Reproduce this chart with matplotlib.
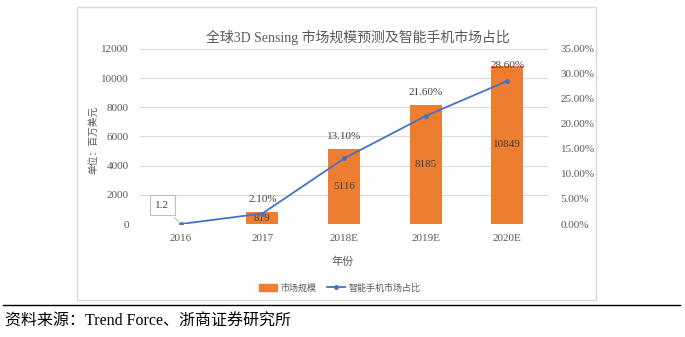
import matplotlib.pyplot as plt
from matplotlib.patches import Rectangle
from matplotlib.lines import Line2D

plt.rcParams['font.family'] = ['Liberation Serif', 'Noto Sans CJK SC', 'DejaVu Sans']

years = ["2016", "2017", "2018E", "2019E", "2020E"]
market = [1.2, 819, 5116, 8185, 10849]
share = [0.0, 2.1, 13.1, 21.6, 28.6]
share_labels = ["", "2.10%", "13.10%", "21.60%", "28.60%"]
left_ticks = [0, 2000, 4000, 6000, 8000, 10000, 12000]
right_ticks = [0, 5, 10, 15, 20, 25, 30, 35]

orange = "#ED7D31"
blue = "#4472C4"
grey = "#595959"

fig = plt.figure(figsize=(6.85, 3.37), dpi=100)
W, H = 685, 337

# chart frame
fig.patches.append(Rectangle((77 / W, 1 - 300 / H), (596 - 77) / W, (300 - 7) / H,
                             transform=fig.transFigure, fill=False, ec="#d9d9d9", lw=1))

ax = fig.add_axes([140 / W, 1 - 224 / H, (548 - 140) / W, (224 - 49) / H])
ax2 = ax.twinx()
x = list(range(len(years)))

ax.bar(x, market, width=0.39, color=orange, zorder=2)
ax.set_ylim(0, 12000)
ax.set_xlim(-0.5, len(years) - 0.5)
ax.set_yticks(left_ticks)
ax.grid(axis="y", color="#d9d9d9", lw=0.8, zorder=0)
ax.set_axisbelow(True)
ax.set_xticks(x)
ax.set_xticklabels(years)
for s in ax.spines.values():
  s.set_visible(False)
for s in ax2.spines.values():
  s.set_visible(False)
ax.tick_params(length=0, labelsize=8, labelcolor=grey, pad=8)
ax.tick_params(axis="x", pad=7)

ax2.plot(x, share, color=blue, lw=1.3, marker="o", ms=2.5, zorder=3)
ax2.set_ylim(0, 35)
ax2.set_yticks(right_ticks)
ax2.set_yticklabels([f"{t:.2f}%" for t in right_ticks])
ax2.tick_params(length=0, labelsize=8, labelcolor=grey, pad=9)

# bar value labels
for i, v in enumerate(market):
  if i == 0:
    continue
  ax.text(i, v / 2, f"{v}", ha="center", va="center", fontsize=8, color="#404040", zorder=4)

# share labels above bars
for i, lab in enumerate(share_labels):
  if not lab:
    continue
  off = 0 if i == 4 else 550
  ax.text(i, market[i] + off, lab, ha="center", va="bottom" if i < 4 else "center",
          fontsize=8, color="#404040", zorder=4)

# callout for 2016
ax.annotate("1.2", xy=(0, 0), xytext=(-0.23, 1300), ha="center", va="center",
            fontsize=8, color="#404040",
            bbox=dict(boxstyle="square,pad=0.5", fc="white", ec="#bfbfbf", lw=0.8),
            arrowprops=dict(arrowstyle="-", color="#bfbfbf", lw=0.8))

fig.text(358 / W, 1 - 37 / H, "全球3D Sensing 市场规模预测及智能手机市场占比",
         ha="center", va="center", fontsize=10, color=grey)
fig.text(93 / W, 1 - 140 / H, "单位：百万美元", rotation=90, ha="center", va="center",
         fontsize=7, color=grey)
fig.text(343 / W, 1 - 262 / H, "年份", ha="center", va="center", fontsize=8, color=grey)

handles = [Rectangle((0, 0), 1, 1, color=orange),
           Line2D([0], [0], color=blue, lw=1.3, marker="o", ms=2.5)]
fig.legend(handles, ["市场规模", "智能手机市场占比"], loc="center",
           bbox_to_anchor=(340 / W, 1 - 288 / H), ncol=2, frameon=False,
           fontsize=6.5, labelcolor=grey, handlelength=2, columnspacing=1.2,
           handletextpad=0.4)

fig.add_artist(Line2D([3 / W, 680 / W], [1 - 305 / H, 1 - 305 / H],
                      transform=fig.transFigure, color="black", lw=1))
fig.text(5 / W, 1 - 322 / H, "资料来源：Trend Force、浙商证券研究所", ha="left",
         va="center", fontsize=11.5, color="black")

fig.savefig("out.png", dpi=100)
